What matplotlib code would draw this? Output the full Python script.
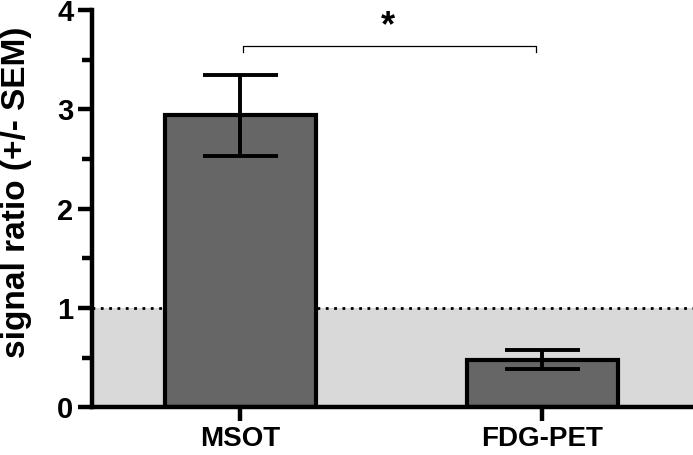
import matplotlib.pyplot as plt
from matplotlib.ticker import MultipleLocator

plt.rcParams["font.family"] = ["Liberation Sans", "DejaVu Sans"]

categories = ["MSOT", "FDG-PET"]
means = [2.94, 0.48]
sems = [0.41, 0.095]
baseline = 1.0

fig = plt.figure(figsize=(6.93, 4.55), dpi=100)
ax = fig.add_axes([0.133, 0.105, 0.867, 0.873])

x = range(len(categories))
ax.axhspan(0, baseline, color="#d9d9d9", zorder=0, lw=0)
ax.axhline(baseline, color="black", ls=(0, (1, 2)), lw=2, zorder=1)
ax.bar(x, means, width=0.5, color="#666666", edgecolor="black", linewidth=3, zorder=2)
ax.errorbar(x, means, yerr=sems, fmt="none", ecolor="black", elinewidth=2.8,
            capsize=27, capthick=2.8, zorder=3)

# significance bracket
yb = 3.64
ax.plot([0.01, 0.01, 0.98, 0.98], [yb - 0.06, yb, yb, yb - 0.06], color="black", lw=0.9, zorder=3)
ax.text(0.49, yb + 0.02, "*", ha="center", va="bottom", fontsize=26, fontweight="bold")

ax.set_xlim(-0.49, 1.5)
ax.set_ylim(0, 4)
ax.set_xticks(list(x))
ax.set_xticklabels(categories, fontsize=20, fontweight="bold")
ax.yaxis.set_major_locator(MultipleLocator(1))
ax.yaxis.set_minor_locator(MultipleLocator(0.5))
for lab in ax.get_yticklabels():
    lab.set_fontsize(21)
    lab.set_fontweight("bold")
ax.set_ylabel("signal ratio (+/- SEM)", fontsize=24, fontweight="bold")
ax.yaxis.set_label_coords(-0.1, 0.54)

for side in ["top", "right"]:
    ax.spines[side].set_visible(False)
for side in ["left", "bottom"]:
    ax.spines[side].set_linewidth(3.2)
ax.tick_params(axis="both", which="major", width=3.2, length=10)
ax.tick_params(axis="y", which="minor", width=3.2, length=7)

fig.savefig("out.png", dpi=100)
